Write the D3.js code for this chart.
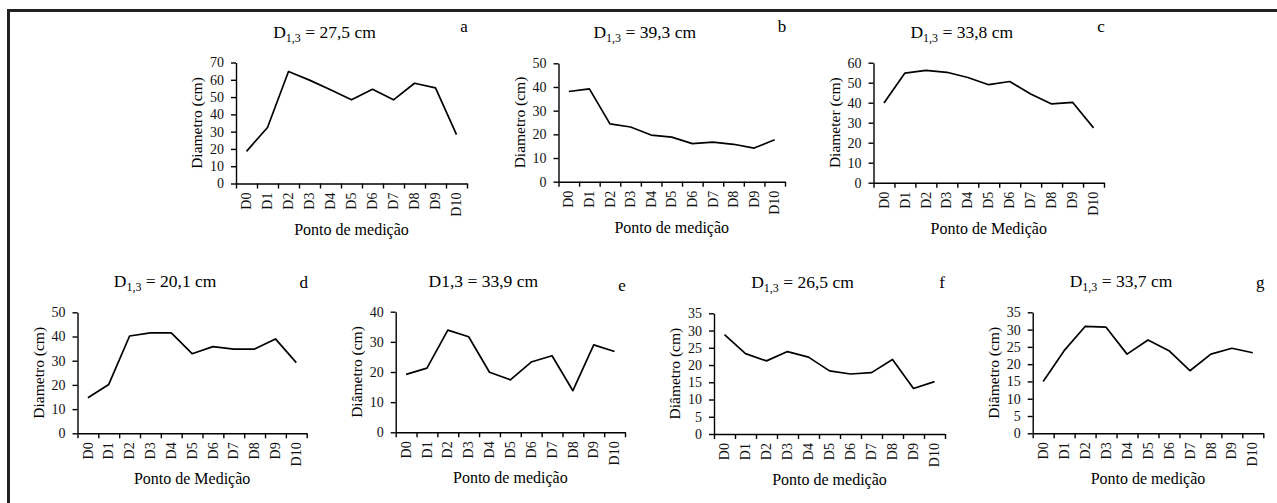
<!DOCTYPE html>
<html>
<head>
<meta charset="utf-8">
<script src="https://cdn.jsdelivr.net/npm/d3@7"></script>
<style>
  body { margin: 0; background: #fff; }
  svg { display: block; font-family: "Liberation Serif", "Times New Roman", serif; }
  .axis path, .axis line { stroke: #000; stroke-width: 1.4; }
  .axis text { font-family: "Liberation Serif", "Times New Roman", serif; font-size: 14px; fill: #111; }
</style>
</head>
<body>
<div id="chart"></div>
<script>
const points = ["D0", "D1", "D2", "D3", "D4", "D5", "D6", "D7", "D8", "D9", "D10"];

const diamA = [18.6, 32.4, 64.8, 59.8, 54.2, 48.4, 54.5, 48.4, 58.0, 55.3, 28.3];
const diamB = [38.1, 39.2, 24.4, 23.1, 19.7, 18.8, 16.1, 16.7, 15.8, 14.2, 17.7];
const diamC = [39.8, 54.8, 56.2, 55.2, 52.6, 49.0, 50.6, 44.4, 39.4, 40.2, 27.4];
const diamD = [14.7, 20.2, 40.2, 41.5, 41.5, 32.9, 35.8, 34.8, 34.8, 39.0, 29.2];
const diamE = [19.2, 21.3, 33.9, 31.7, 19.9, 17.4, 23.3, 25.4, 13.8, 29.0, 26.8];
const diamF = [28.8, 23.3, 21.2, 23.9, 22.3, 18.3, 17.4, 17.8, 21.6, 13.2, 15.2];
const diamG = [15.0, 23.9, 30.9, 30.7, 22.9, 27.0, 23.9, 18.1, 22.9, 24.6, 23.3];

const dValues = ["27,5", "39,3", "33,8", "20,1", "33,9", "26,5", "33,7"];
const letters = ["a", "b", "c", "d", "e", "f", "g"];
const yLabels = ["Diametro (cm)", "Diametro (cm)", "Diameter (cm)", "Diametro (cm)",
                 "Diâmetro (cm)", "Diâmetro (cm)", "Diâmetro (cm)"];
const xLabels = ["Ponto de medição", "Ponto de medição", "Ponto de Medição", "Ponto de Medição",
                 "Ponto de medição", "Ponto de medição", "Ponto de medição"];
const yMax = [70, 50, 60, 50, 40, 35, 35];
const yStep = [10, 10, 10, 10, 10, 5, 5];

const series = [diamA, diamB, diamC, diamD, diamE, diamF, diamG];

const width = 1277;
const height = 503;

// plot boxes
const boxes = [
  { x0: 236, x1: 467, top: 62.5, bot: 183.5, letterY: 32 },
  { x0: 558.5, x1: 785, top: 63.3, bot: 181.7, letterY: 32 },
  { x0: 873.5, x1: 1104, top: 62.7, bot: 182.7, letterY: 32 },
  { x0: 77.5, x1: 306.7, top: 312.3, bot: 433.3, letterY: 288 },
  { x0: 395.7, x1: 625, top: 311.7, bot: 432.3, letterY: 291 },
  { x0: 714, x1: 945, top: 313.3, bot: 434, letterY: 288 },
  { x0: 1032.7, x1: 1263.3, top: 312.3, bot: 433.3, letterY: 288 }
];

const svg = d3.select("#chart").append("svg")
  .attr("width", width)
  .attr("height", height);

// frame (only top and left edges are visible)
svg.append("path")
  .attr("d", `M${width},10.5H8.5V${height}`)
  .attr("fill", "none")
  .attr("stroke", "#222")
  .attr("stroke-width", 3);

boxes.forEach((b, i) => {
  const g = svg.append("g");

  const x = d3.scaleBand()
    .domain(points)
    .range([b.x0, b.x1])
    .padding(0);

  const xTicks = d3.scaleLinear()
    .domain([0, points.length])
    .range([b.x0, b.x1]);

  const y = d3.scaleLinear()
    .domain([0, yMax[i]])
    .range([b.bot, b.top]);

  // y axis
  g.append("g")
    .attr("class", "axis")
    .attr("transform", `translate(${b.x0},0)`)
    .call(d3.axisLeft(y)
      .tickValues(d3.range(0, yMax[i] + 0.001, yStep[i]))
      .tickSize(5)
      .tickSizeOuter(0)
      .tickPadding(7))
    .attr("font-family", null)
    .attr("font-size", null);

  // x axis: tick marks between categories
  g.append("g")
    .attr("class", "axis")
    .attr("transform", `translate(0,${b.bot})`)
    .call(d3.axisBottom(xTicks)
      .tickValues(d3.range(0, points.length + 1))
      .tickSize(5)
      .tickSizeOuter(0)
      .tickFormat(""));

  // x labels at category centres
  const xl = g.append("g")
    .attr("class", "axis")
    .attr("transform", `translate(0,${b.bot})`)
    .call(d3.axisBottom(x).tickSize(0).tickSizeOuter(0))
    .attr("font-family", null)
    .attr("font-size", null);
  xl.select(".domain").remove();
  xl.selectAll("text")
    .attr("transform", "rotate(-90)")
    .attr("text-anchor", "end")
    .attr("x", -9)
    .attr("y", 0)
    .attr("dy", "0.33em");

  const line = d3.line()
    .x((d, j) => x(points[j]) + x.bandwidth() / 2)
    .y(d => y(d));

  g.append("path")
    .datum(series[i])
    .attr("fill", "none")
    .attr("stroke", "#000")
    .attr("stroke-width", 1.7)
    .attr("stroke-linejoin", "round")
    .attr("d", line);

  // title
  const title = g.append("text")
    .attr("x", (b.x0 + b.x1) / 2 - 27)
    .attr("y", b.top - 25)
    .attr("text-anchor", "middle")
    .style("font-size", "17.5px")
    .attr("fill", "#000");
  if (i === 4) {
    title.text(`D1,3 = ${dValues[i]} cm`);
  } else {
    title.append("tspan").text("D");
    title.append("tspan").attr("dy", 4).style("font-size", "12px").text("1,3");
    title.append("tspan").attr("dy", -4).text(` = ${dValues[i]} cm`);
  }

  g.append("text")
    .attr("x", b.x1 - 3)
    .attr("y", b.letterY)
    .attr("text-anchor", "middle")
    .style("font-size", "17px")
    .attr("fill", "#000")
    .text(letters[i]);

  g.append("text")
    .attr("transform", `translate(${b.x0 - 34},${(b.top + b.bot) / 2}) rotate(-90)`)
    .attr("text-anchor", "middle")
    .style("font-size", "15.5px")
    .attr("fill", "#000")
    .text(yLabels[i]);

  g.append("text")
    .attr("x", (b.x0 + b.x1) / 2)
    .attr("y", b.bot + 51)
    .attr("text-anchor", "middle")
    .style("font-size", "16px")
    .attr("fill", "#000")
    .text(xLabels[i]);
});
</script>
</body>
</html>
